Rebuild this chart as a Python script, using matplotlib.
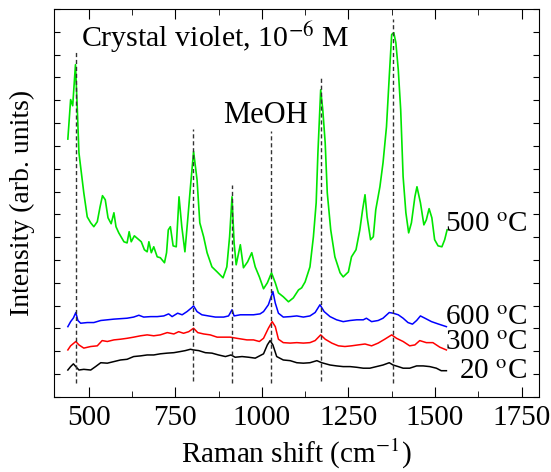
"""Raman spectra of crystal violet (1e-6 M) on substrates annealed at different temperatures."""

import matplotlib

matplotlib.use("Agg")
import matplotlib.pyplot as plt
from matplotlib.ticker import MultipleLocator, NullFormatter

plt.rcParams["font.family"] = ["Liberation Serif", "DejaVu Serif"]
plt.rcParams["mathtext.fontset"] = "stix"

# ---- data (Raman shift in cm^-1, intensity in arb. units) ----
shift_500 = [440, 448, 454, 462, 467, 472, 479, 486, 496, 506, 515, 525, 533, 540, 548, 556,
             565, 573, 579, 587, 602, 611, 617, 623, 632, 642, 652, 661, 669, 674, 681, 688,
             698, 707, 719, 725, 730, 736, 744, 753, 761, 769, 778, 786, 794, 803, 813, 821,
             832, 842, 856, 871, 888, 899, 907, 914, 920, 926, 938, 947, 959, 971, 981, 993,
             1005, 1016, 1028, 1039, 1048, 1062, 1077, 1091, 1106, 1115, 1125, 1139, 1149, 1157,
             1162, 1170, 1176, 1183, 1189, 1199, 1211, 1226, 1235, 1250, 1259, 1272, 1283, 1291,
             1298, 1304, 1314, 1322, 1329, 1341, 1350, 1360, 1368, 1375, 1381, 1387, 1394, 1401,
             1408, 1416, 1424, 1432, 1442, 1448, 1458, 1468, 1475, 1483, 1491, 1499, 1509, 1520,
             1528, 1535]
int_500 = [11.30, 13.03, 12.76, 14.56, 12.73, 10.70, 9.82, 8.95, 7.89, 7.63, 7.46, 7.68, 8.33, 8.82,
           8.64, 7.85, 7.59, 8.07, 7.46, 7.19, 6.80, 6.75, 7.24, 6.80, 7.06, 6.93, 6.80, 6.45, 6.36,
           6.80, 6.32, 6.58, 6.14, 6.10, 5.88, 6.32, 7.32, 7.46, 6.62, 6.58, 8.77, 7.46, 6.36, 7.76,
           9.21, 10.75, 9.52, 7.63, 7.02, 6.32, 5.70, 5.48, 5.22, 5.70, 7.02, 8.77, 6.75, 5.79, 6.67,
           5.66, 5.92, 6.32, 5.70, 5.26, 4.74, 5.00, 5.44, 5.00, 4.56, 4.39, 4.17, 4.34, 4.69, 4.78,
           5.04, 5.70, 7.02, 8.51, 10.70, 13.46, 12.59, 11.14, 8.95, 7.32, 6.14, 5.44, 5.26, 5.48,
           6.14, 6.45, 7.32, 8.20, 8.86, 7.89, 6.89, 7.02, 8.20, 9.21, 10.26, 11.84, 14.04, 15.88,
           15.96, 15.53, 14.34, 12.59, 9.65, 8.07, 7.19, 7.63, 8.77, 9.21, 8.51, 7.54, 7.76, 8.25,
           7.85, 6.89, 6.62, 6.58, 6.89, 7.32]

shift_600 = [440, 448, 456, 463, 469, 477, 496, 515, 535, 554, 573, 592, 611, 630, 645, 659, 679,
             698, 717, 731, 741, 757, 770, 784, 796, 803, 813, 827, 846, 866, 890, 904, 914, 920,
             938, 957, 976, 995, 1005, 1019, 1032, 1039, 1048, 1062, 1082, 1101, 1120, 1139, 1154,
             1168, 1180, 1197, 1216, 1235, 1255, 1274, 1293, 1302, 1317, 1336, 1350, 1368, 1379,
             1394, 1408, 1422, 1435, 1447, 1458, 1471, 1490, 1509, 1533]
int_600 = [3.08, 3.30, 3.46, 3.70, 3.35, 3.23, 3.26, 3.26, 3.35, 3.38, 3.41, 3.43, 3.45, 3.50, 3.58,
           3.50, 3.52, 3.52, 3.55, 3.64, 3.52, 3.67, 3.60, 3.74, 3.89, 3.99, 3.74, 3.60, 3.55, 3.50,
           3.50, 3.55, 3.82, 3.55, 3.60, 3.60, 3.60, 3.64, 3.74, 4.04, 4.62, 4.11, 3.67, 3.50, 3.52,
           3.55, 3.50, 3.55, 3.70, 4.04, 3.74, 3.52, 3.38, 3.30, 3.35, 3.38, 3.38, 3.45, 3.30, 3.35,
           3.45, 3.70, 3.67, 3.60, 3.45, 3.26, 3.19, 3.35, 3.55, 3.45, 3.30, 3.20, 3.08]

shift_300 = [440, 448, 463, 472, 486, 506, 525, 539, 554, 573, 592, 611, 630, 650, 669, 688, 707,
             727, 746, 760, 774, 789, 803, 815, 832, 851, 871, 890, 909, 928, 957, 976, 993, 1005,
             1019, 1030, 1039, 1048, 1062, 1082, 1101, 1120, 1139, 1154, 1170, 1183, 1202, 1221,
             1240, 1259, 1278, 1298, 1317, 1336, 1355, 1375, 1389, 1408, 1427, 1442, 1456, 1475,
             1494, 1514, 1533]
int_300 = [2.06, 2.24, 2.43, 2.28, 2.14, 2.21, 2.24, 2.47, 2.43, 2.50, 2.53, 2.57, 2.62, 2.68, 2.72,
           2.68, 2.72, 2.82, 2.76, 2.86, 2.79, 2.86, 3.01, 2.82, 2.76, 2.72, 2.62, 2.62, 2.62, 2.57,
           2.50, 2.50, 2.43, 2.57, 3.01, 3.30, 3.08, 2.53, 2.38, 2.36, 2.38, 2.36, 2.38, 2.47, 2.72,
           2.53, 2.36, 2.24, 2.21, 2.24, 2.28, 2.32, 2.24, 2.36, 2.53, 2.72, 2.57, 2.43, 2.24, 2.28,
           2.47, 2.38, 2.38, 2.18, 2.06]

shift_20 = [440, 448, 456, 463, 472, 486, 506, 520, 535, 554, 573, 592, 611, 630, 650, 669, 688,
            707, 727, 746, 765, 779, 794, 803, 818, 837, 856, 875, 895, 911, 923, 943, 962, 981,
            1005, 1016, 1024, 1032, 1043, 1062, 1082, 1101, 1120, 1139, 1159, 1173, 1197, 1216,
            1235, 1255, 1274, 1293, 1312, 1331, 1350, 1368, 1379, 1394, 1408, 1427, 1447, 1466,
            1485, 1504, 1518, 1533]
int_20 = [1.18, 1.33, 1.45, 1.33, 1.18, 1.21, 1.18, 1.33, 1.50, 1.48, 1.55, 1.62, 1.65, 1.77, 1.80,
          1.84, 1.84, 1.89, 1.92, 1.94, 1.99, 2.03, 2.09, 2.06, 2.03, 1.94, 1.92, 1.84, 1.77, 1.84,
          1.74, 1.77, 1.74, 1.70, 1.89, 2.28, 2.47, 2.28, 1.77, 1.62, 1.59, 1.50, 1.48, 1.50, 1.59,
          1.50, 1.40, 1.36, 1.33, 1.33, 1.30, 1.26, 1.26, 1.33, 1.40, 1.50, 1.40, 1.33, 1.26, 1.26,
          1.36, 1.36, 1.33, 1.26, 1.15, 1.15]

# marked bands: position, top and bottom of the dashed guide
band_pos = [463, 802, 915, 1027, 1171, 1378]
band_top = [15.22, 11.75, 9.30, 11.67, 14.04, 16.58]
band_bottom = [0.61, 0.70, 0.61, 0.61, 0.70, 0.61]

curve_labels = ["500 $^{\\rm o}$C", "600 $^{\\rm o}$C", "300 $^{\\rm o}$C", "20 $^{\\rm o}$C"]
label_y = [7.54, 3.46, 2.37, 1.10]


def plot_spectra():
    fig = plt.figure(figsize=(5.51, 4.72), dpi=100)
    axis = fig.add_axes([0.098, 0.159, 0.880, 0.822])

    axis.plot(shift_20, int_20, color="black", lw=1.1)
    axis.plot(shift_300, int_300, color="#ff0000", lw=1.1)
    axis.plot(shift_600, int_600, color="#0000ff", lw=1.1)
    axis.plot(shift_500, int_500, color="#00e600", lw=1.2)

    for pos, top, bottom in zip(band_pos, band_top, band_bottom):
        axis.vlines(pos, bottom, top, colors="0.2", linestyles=(0, (3, 2)), lw=1.0)

    axis.text(477, 15.75, "Crystal violet, 10$^{-6}$ M", fontsize=21.5, va="center", ha="left")
    axis.text(889, 12.32, "MeOH", fontsize=22, va="center", ha="left")
    for text, y in zip(curve_labels, label_y):
        axis.text(1767, y, text, fontsize=21, va="center", ha="right")

    axis.set_xlim(400, 1800)
    axis.set_ylim(0, 17)
    axis.xaxis.set_major_locator(MultipleLocator(250))
    axis.xaxis.set_minor_locator(MultipleLocator(125))
    axis.yaxis.set_major_locator(MultipleLocator(1))
    axis.yaxis.set_major_formatter(NullFormatter())
    axis.tick_params(which="both", direction="in", top=True, right=True, labelsize=21, pad=6)
    axis.tick_params(axis="x", which="major", length=7)
    axis.tick_params(axis="x", which="minor", length=4)
    axis.tick_params(axis="y", which="major", length=4)

    axis.set_xlabel("Raman shift (cm$^{-1}$)", fontsize=21, labelpad=4)
    axis.set_ylabel("Intensity (arb. units)", fontsize=20, labelpad=8)

    fig.savefig("out.png", dpi=100)
    plt.close(fig)


if __name__ == "__main__":
    plot_spectra()
